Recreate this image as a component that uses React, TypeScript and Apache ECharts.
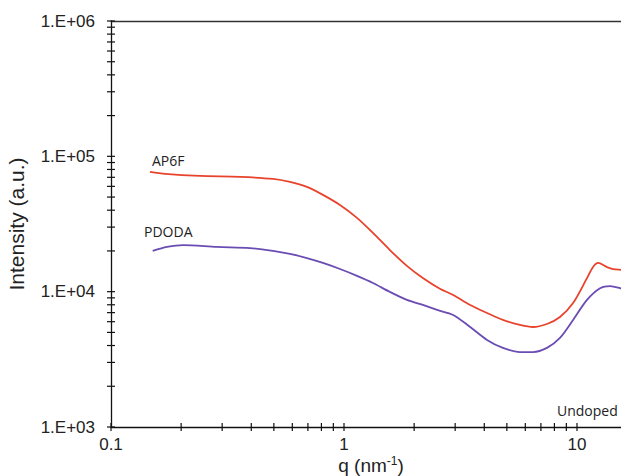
import React, { useEffect, useRef } from "react";
import * as echarts from "echarts";

const Q_AP6F = [0.147, 0.171, 0.241, 0.358, 0.496, 0.586, 0.693, 0.812, 0.961, 1.137, 1.331, 1.574, 1.862, 2.18, 2.58, 2.94, 3.48, 4.11, 4.81, 5.69, 6.47, 7.43, 8.45, 9.62, 11.04, 11.72, 12.31, 13.45, 14.29, 15.45, 17.0];
const I_AP6F = [76700, 74100, 71600, 70500, 68100, 64700, 59400, 51900, 43700, 35100, 27200, 20300, 15500, 12600, 10500, 9460, 7980, 6960, 6180, 5680, 5480, 5770, 6500, 8240, 12600, 15200, 16300, 15200, 14700, 14500, 14300];

const Q_PDODA = [0.151, 0.174, 0.204, 0.285, 0.395, 0.496, 0.586, 0.693, 0.812, 0.961, 1.137, 1.331, 1.574, 1.862, 2.18, 2.51, 2.94, 3.48, 4.11, 4.81, 5.69, 6.47, 7.43, 8.45, 9.62, 11.04, 12.56, 13.87, 15.3, 17.0];
const I_PDODA = [20000, 21400, 22100, 21400, 21000, 20000, 19000, 17700, 16300, 14700, 13100, 11600, 9950, 8690, 7980, 7330, 6730, 5480, 4400, 3840, 3580, 3580, 3840, 4550, 6180, 8690, 10600, 11000, 10600, 10000];

const X_TICKS = [0.1, 0.2, 0.3, 0.4, 0.5, 0.6, 0.7, 0.8, 0.9, 1, 2, 3, 4, 5, 6, 7, 8, 9, 10, 20, 30, 40, 50, 60, 70, 80, 90, 100];
const Y_TICKS = [1000, 2000, 3000, 4000, 5000, 6000, 7000, 8000, 9000, 10000, 20000, 30000, 40000, 50000, 60000, 70000, 80000, 90000, 100000, 200000, 300000, 400000, 500000, 600000, 700000, 800000, 900000, 1000000];
const X_LABELS = ["0.1", "1", "10"];

const X_MIN = 0.1;
const X_MAX = 100;
const Y_MIN = 1000;
const Y_MAX = 1000000;

const AXIS_FONT = "'Liberation Sans', Arial, sans-serif";
const NOTE_FONT = "'Open Sans', sans-serif";

export default function App() {
  const ref = useRef<HTMLDivElement>(null);
  useEffect(() => {
    if (!ref.current) return;
    const chart = echarts.init(ref.current, null, { renderer: "svg" });
    const zip = (a: number[], b: number[]) => a.map((v, i) => [v, b[i]]);
    const tickLine = (horizontal: boolean) => (params: any, api: any) => {
      const p = api.coord([api.value(0), api.value(1)]);
      return {
        type: "line",
        shape: horizontal
          ? { x1: p[0] - 4, y1: p[1], x2: p[0] + 4, y2: p[1] }
          : { x1: p[0], y1: p[1] - 4, x2: p[0], y2: p[1] + 4 },
        style: { stroke: "#111", lineWidth: 1.2 },
      };
    };
    chart.setOption({
      animation: false,
      backgroundColor: "#fff",
      grid: { left: 111, top: 21, width: 699, height: 406, outerBoundsMode: "none", containLabel: false },
      xAxis: [
        {
          type: "log",
          logBase: 10,
          min: X_MIN,
          max: X_MAX,
          axisLine: { show: true, lineStyle: { color: "#111", width: 1.3 } },
          axisTick: { show: false },
          splitLine: { show: false },
          minorTick: { show: false },
          axisLabel: {
            margin: 9,
            fontFamily: AXIS_FONT,
            fontSize: 17,
            color: "#222",
            formatter: (v: number) => {
              const k = Math.round(Math.log10(v)) + 1;
              return X_LABELS[k] ?? "";
            },
          },
        },
        {
          type: "log",
          logBase: 10,
          min: X_MIN,
          max: X_MAX,
          position: "top",
          axisLine: { show: true, lineStyle: { color: "#333", width: 1.3 } },
          axisTick: { show: false },
          axisLabel: { show: false },
          splitLine: { show: false },
        },
      ],
      yAxis: {
        type: "log",
        logBase: 10,
        min: Y_MIN,
        max: Y_MAX,
        name: "Intensity (a.u.)",
        nameLocation: "middle",
        nameGap: 84,
        nameTextStyle: { fontFamily: AXIS_FONT, fontSize: 21, color: "#222" },
        axisLine: { show: true, lineStyle: { color: "#111", width: 1.3 } },
        axisTick: { show: false },
        splitLine: { show: false },
        axisLabel: {
          margin: 16,
          fontFamily: AXIS_FONT,
          fontSize: 17,
          color: "#222",
          formatter: (v: number) => "1.E+0" + Math.round(Math.log10(v)),
        },
      },
      series: [
        {
          name: "AP6F",
          type: "line",
          data: zip(Q_AP6F, I_AP6F),
          smooth: 0.3,
          showSymbol: false,
          lineStyle: { color: "#e8442d", width: 1.8 },
          itemStyle: { color: "#e8442d" },
          z: 3,
        },
        {
          name: "PDODA",
          type: "line",
          data: zip(Q_PDODA, I_PDODA),
          smooth: 0.3,
          showSymbol: false,
          lineStyle: { color: "#6a4cb2", width: 1.8 },
          itemStyle: { color: "#6a4cb2" },
          z: 3,
        },
        {
          type: "custom",
          clip: false,
          data: Y_TICKS.map((v) => [X_MIN, v]),
          renderItem: tickLine(true),
          silent: true,
          z: 4,
        },
        {
          type: "custom",
          clip: false,
          data: X_TICKS.map((v) => [v, Y_MIN]),
          renderItem: tickLine(false),
          silent: true,
          z: 4,
        },
      ],
      graphic: [
        {
          type: "text",
          x: 152,
          y: 160,
          style: { text: "AP6F", fontFamily: NOTE_FONT, fontSize: 14, fill: "#222", verticalAlign: "middle" },
        },
        {
          type: "text",
          x: 144,
          y: 231,
          style: { text: "PDODA", fontFamily: NOTE_FONT, fontSize: 14, fill: "#222", verticalAlign: "middle" },
        },
        {
          type: "text",
          x: 557,
          y: 410,
          style: { text: "Undoped", fontFamily: NOTE_FONT, fontSize: 14, fill: "#222", verticalAlign: "middle" },
        },
        {
          type: "text",
          x: 371,
          y: 465,
          style: {
            text: "{a|q (nm}{b|-1}{a|)}",
            align: "center",
            verticalAlign: "middle",
            rich: {
              a: { fontFamily: AXIS_FONT, fontSize: 19, fill: "#222" },
              b: { fontFamily: AXIS_FONT, fontSize: 12, fill: "#222", verticalAlign: "top", padding: [0, 0, 8, 0] },
            },
          },
        },
      ],
    });
    return () => chart.dispose();
  }, []);
  return (
    <div
      ref={ref}
      style={{ position: "fixed", left: 0, top: 0, width: 621, height: 476, overflow: "hidden" }}
    />
  );
}
